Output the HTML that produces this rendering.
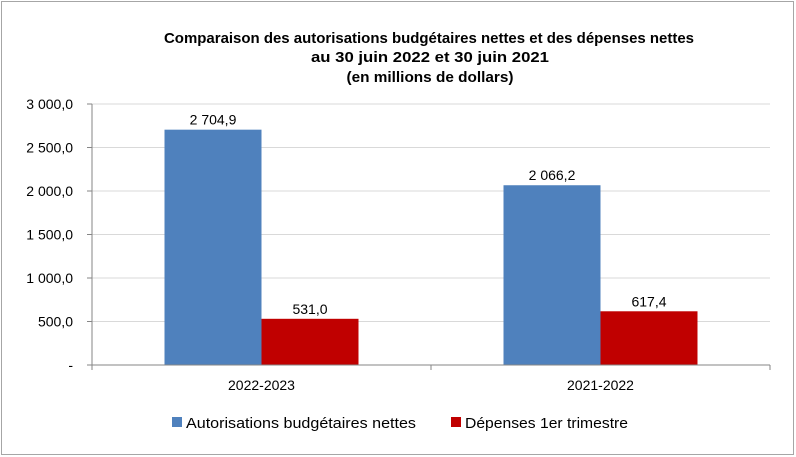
<!DOCTYPE html>
<html><head><meta charset="utf-8"><style>
html,body{margin:0;padding:0;background:#fff;}
svg{display:block;font-family:"Liberation Sans",Arial,sans-serif;}
</style></head><body>
<svg id="chart" width="796" height="457">
<rect x="1.5" y="1.5" width="792" height="453" fill="#fff" stroke="#a6a6a6"/>
<g font-weight="bold" font-size="15" text-anchor="middle" fill="#000">
<text x="429" y="43" textLength="530" lengthAdjust="spacingAndGlyphs">Comparaison des autorisations budgétaires nettes et des dépenses nettes</text>
<text x="430" y="62" textLength="238" lengthAdjust="spacingAndGlyphs">au 30 juin 2022 et 30 juin 2021</text>
<text x="430" y="82" textLength="167" lengthAdjust="spacingAndGlyphs">(en millions de dollars)</text>
</g>
<g id="grid"></g><g id="bars"></g><g id="axes"></g>
<g font-size="15">
<rect x="172" y="417" width="10" height="10" fill="#4F81BD"/>
<text x="186" y="428" textLength="230" lengthAdjust="spacingAndGlyphs">Autorisations budgétaires nettes</text>
<rect x="451" y="417" width="10" height="10" fill="#C00000"/>
<text x="465" y="428" textLength="163" lengthAdjust="spacingAndGlyphs">Dépenses 1er trimestre</text>
</g>
</svg>
<script>
const categories=["2022-2023","2021-2022"];
const autorisations=[2704.9,2066.2];
const depenses=[531.0,617.4];
const tickValues=[0,500,1000,1500,2000,2500,3000];
const tickLabels=["-","500,0","1 000,0","1 500,0","2 000,0","2 500,0","3 000,0"];
const valueLabelsA=["2 704,9","2 066,2"];
const valueLabelsD=["531,0","617,4"];
const NS="http://www.w3.org/2000/svg";
const X0=92,X1=770,Y0=365,Y1=104,VMAX=3000;
const y=v=>Y0-(v/VMAX)*(Y0-Y1);
const cw=(X1-X0)/categories.length;
const bw=97;
function mk(p,t,a){const e=document.createElementNS(NS,t);for(const k in a)e.setAttribute(k,a[k]);p.appendChild(e);return e;}
const grid=document.getElementById('grid'),bars=document.getElementById('bars'),axes=document.getElementById('axes');
tickValues.forEach((v,i)=>{
 if(v>0){const l=mk(grid,'line',{x1:X0,x2:X1,y1:y(v),y2:y(v),stroke:'#d9d9d9'});
 
 }
 const tk=mk(axes,'line',{x1:X0-5,x2:X0,y1:y(v),y2:y(v),stroke:'#868686'});
 
 
 const t=mk(axes,'text',{x:X0-19,y:y(v)+5,'text-anchor':'end','font-size':'14'});t.textContent=tickLabels[i];
 
 
});
categories.forEach((c,i)=>{
 const cx=X0+cw*(i+0.5);
 const a=mk(bars,'rect',{x:cx-bw,y:y(autorisations[i]),width:bw,height:Y0-y(autorisations[i]),fill:'#4F81BD'});
 
 
 const d=mk(bars,'rect',{x:cx,y:y(depenses[i]),width:bw,height:Y0-y(depenses[i]),fill:'#C00000'});
 
 
 const la=mk(bars,'text',{x:cx-bw/2,y:y(autorisations[i])-5,'text-anchor':'middle','font-size':'14'});la.textContent=valueLabelsA[i];
 
 
 const ld=mk(bars,'text',{x:cx+bw/2,y:y(depenses[i])-5,'text-anchor':'middle','font-size':'14'});ld.textContent=valueLabelsD[i];
 
 
 const ct=mk(axes,'text',{x:cx,y:Y0+25,'text-anchor':'middle','font-size':'14'});ct.textContent=c;
 
 
});
for(let i=0;i<=categories.length;i++){const t=mk(axes,'line',{x1:X0+cw*i,x2:X0+cw*i,y1:Y0,y2:Y0+5,stroke:'#868686'});
 
 }
const ya=mk(axes,'line',{x1:X0,x2:X0,y1:Y1,y2:Y0,stroke:'#868686'});


const xa=mk(axes,'line',{x1:X0,x2:X1,y1:Y0,y2:Y0,stroke:'#868686'});


</script>
</body></html>
